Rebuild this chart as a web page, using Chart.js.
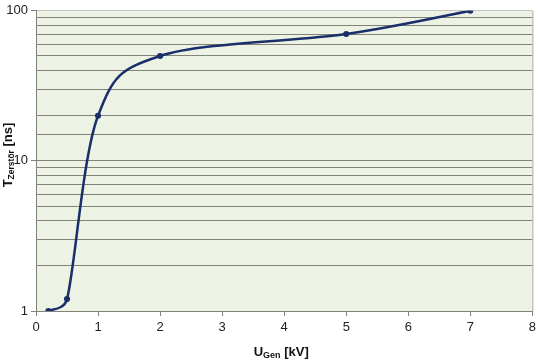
<!DOCTYPE html>
<html>
<head>
<meta charset="utf-8">
<script src="https://cdn.jsdelivr.net/npm/chart.js@4/dist/chart.umd.min.js"></script>
<style>
html,body{margin:0;padding:0;background:#fff;}
#wrap{width:540px;height:361px;}
</style>
</head>
<body>
<div id="wrap"><canvas id="c" width="540" height="361"></canvas></div>
<script>
const voltageKV = [0.2, 0.5, 1, 2, 5, 7];
const timeNs = [1, 1.2, 20, 50, 70, 100];
const yTickLabels = ['1', '10', '100'];
const xTickLabels = ['0','1','2','3','4','5','6','7','8'];

const GRID = '#828279';
const FONT = '"Liberation Sans", Arial, sans-serif';

const points = voltageKV.map((v, i) => ({x: v, y: timeNs[i]}));

// Spreadsheet-style smoothing of the line between the library's own point positions
const smoothLine = {
  id: 'smoothLine',
  beforeDatasetDraw(chart, args) {
    const meta = args.meta;
    const pts = meta.data;
    const n = pts.length;
    const dist = (a, b) => Math.hypot(b.x - a.x, b.y - a.y);
    for (let i = 0; i < n; i++) {
      const p = pts[i];
      const prev = pts[Math.max(0, i - 1)];
      const next = pts[Math.min(n - 1, i + 1)];
      const dx = (next.x - prev.x) / 6, dy = (next.y - prev.y) / 6;
      const len = Math.hypot(dx, dy) || 1;
      const sL = Math.min(1, 0.5 * dist(prev, p) / len);
      const sR = Math.min(1, 0.5 * dist(p, next) / len);
      p.cp1x = p.x - dx * sL; p.cp1y = p.y - dy * sL;
      p.cp2x = p.x + dx * sR; p.cp2y = p.y + dy * sR;
    }
    meta.dataset._pointsUpdated = true;
    meta.dataset._path = undefined;
  }
};

const deco = {
  id: 'deco',
  beforeDraw(chart) {
    const {ctx, chartArea: a} = chart;
    ctx.save();
    ctx.fillStyle = '#edf3e4';
    ctx.fillRect(a.left, a.top, a.right - a.left, a.bottom - a.top);
    ctx.restore();
  },
  afterDraw(chart) {
    const {ctx, chartArea: a} = chart;
    ctx.save();
    ctx.strokeStyle = '#a9a9a3';
    ctx.lineWidth = 1;
    ctx.beginPath();
    ctx.moveTo(a.right + 0.5, a.top);
    ctx.lineTo(a.right + 0.5, a.bottom);
    ctx.stroke();
    // x title
    ctx.fillStyle = '#111';
    ctx.textBaseline = 'alphabetic';
    const parts = [['U', 'bold 13px ' + FONT, 0], ['Gen', 'bold 9px ' + FONT, 2], [' [kV]', 'bold 13px ' + FONT, 0]];
    let w = 0;
    parts.forEach(p => { ctx.font = p[1]; w += ctx.measureText(p[0]).width; });
    let x = (a.left + a.right) / 2 - w / 2 - 3;
    const by = 356;
    parts.forEach(p => { ctx.font = p[1]; ctx.fillText(p[0], x, by + p[2]); x += ctx.measureText(p[0]).width; });
    // y title
    const yparts = [['T', 'bold 13px ' + FONT, 0], ['Zerstör', 'bold 8.5px ' + FONT, 2], [' [ns]', 'bold 13px ' + FONT, 0]];
    w = 0;
    yparts.forEach(p => { ctx.font = p[1]; w += ctx.measureText(p[0]).width; });
    ctx.translate(12, 155);
    ctx.rotate(-Math.PI / 2);
    x = -w / 2;
    yparts.forEach(p => { ctx.font = p[1]; ctx.fillText(p[0], x, p[2]); x += ctx.measureText(p[0]).width; });
    ctx.restore();
  }
};

new Chart(document.getElementById('c'), {
  type: 'line',
  data: {
    datasets: [{
      data: points,
      borderColor: '#1a2f6a',
      backgroundColor: '#1a2f6a',
      borderWidth: 2.5,
      pointRadius: 1.8,
      pointHoverRadius: 1.8,
      tension: 0.3,
      fill: false
    }]
  },
  plugins: [deco, smoothLine],
  options: {
    responsive: false,
    animation: false,
    layout: {padding: {left: 0, right: 5, top: 7, bottom: 0}},
    plugins: {legend: {display: false}, tooltip: {enabled: false}},
    scales: {
      x: {
        type: 'linear',
        min: 0, max: 8,
        afterFit(s) { s.height = 50; },
        afterBuildTicks(s) { s.ticks = xTickLabels.map(t => ({value: Number(t)})); },
        ticks: {
          callback: (v) => xTickLabels.includes(String(v)) ? String(v) : '',
          font: {family: FONT, size: 13},
          color: '#222',
          padding: 4,
          maxRotation: 0
        },
        grid: {drawOnChartArea: false, tickLength: 5, color: GRID, tickColor: GRID},
        border: {color: GRID, width: 1}
      },
      y: {
        type: 'logarithmic',
        min: 1, max: 100,
        afterFit(s) { s.width = 36; },
        ticks: {
          callback: (v) => yTickLabels.includes(String(v)) ? String(v) : '',
          autoSkip: false,
          font: {family: FONT, size: 13},
          color: '#222',
          padding: 3
        },
        grid: {
          color: (c) => c.tick && c.tick.value === 100 ? '#c4c6bf' : GRID,
          lineWidth: 1,
          tickLength: 5,
          tickColor: (c) => c.tick && yTickLabels.includes(String(c.tick.value)) ? GRID : 'rgba(0,0,0,0)'
        },
        border: {color: GRID, width: 1}
      }
    }
  }
});
</script>
</body>
</html>
